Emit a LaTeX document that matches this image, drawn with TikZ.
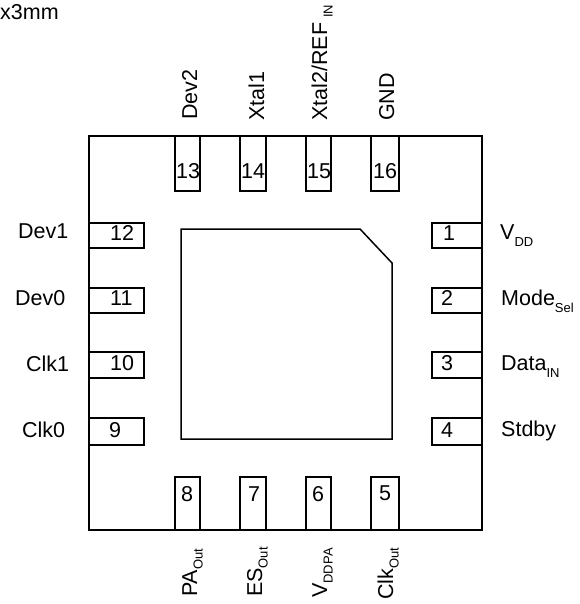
\documentclass[tikz,border=0pt]{standalone}
\usepackage{fontspec}
\setmainfont{Liberation Sans}
\def\pinsub#1{\raisebox{-7pt}{\fontsize{13}{13}\selectfont #1}}
\def\pinsubv#1{\raisebox{-5.5pt}{\fontsize{13}{13}\selectfont #1}}
\tikzset{
	pkgline/.style={line width=1.5pt, color=black},
	pinnum/.style={inner sep=0, anchor=base west, font=\fontsize{21.5}{24}\selectfont},
	pinlabel/.style={inner sep=0, anchor=base west, font=\fontsize{21.5}{24}\selectfont},
	pinlabelv/.style={pinlabel, rotate=90}
}

\begin{document}
\begin{tikzpicture}[x=1pt, y=-1pt]
			%%%%% START %%%%%
			\useasboundingbox (0, 0) rectangle (579, 604);
			
			\node[pinlabel] (title) at (0, 20) {x3mm};
			
			\draw[pkgline] (89, 136) rectangle (482, 530);
			\draw[pkgline] (181, 229) -- (360, 229) -- (392, 263) -- (392, 439) -- (181, 439) -- cycle;
			
			\draw[pkgline] (175, 136) rectangle (200, 191);
			\draw[pkgline] (240, 136) rectangle (266, 191);
			\draw[pkgline] (306, 136) rectangle (331, 191);
			\draw[pkgline] (371, 136) rectangle (399, 191);
			
			\draw[pkgline] (89, 223) rectangle (144, 248);
			\draw[pkgline] (89, 288) rectangle (144, 313);
			\draw[pkgline] (89, 352) rectangle (144, 378);
			\draw[pkgline] (89, 418) rectangle (144, 445);
			
			\draw[pkgline] (432, 223) rectangle (482, 248);
			\draw[pkgline] (432, 288) rectangle (482, 313);
			\draw[pkgline] (432, 352) rectangle (482, 378);
			\draw[pkgline] (432, 418) rectangle (482, 445);
			
			\draw[pkgline] (175, 477) rectangle (200, 530);
			\draw[pkgline] (240, 477) rectangle (266, 530);
			\draw[pkgline] (306, 477) rectangle (331, 530);
			\draw[pkgline] (371, 477) rectangle (399, 530);
			
			\node[pinnum] (pin1) at (443, 240) {1};
			\node[pinnum] (pin2) at (441, 305) {2};
			\node[pinnum] (pin3) at (441, 370) {3};
			\node[pinnum] (pin4) at (441, 437) {4};
			\node[pinnum] (pin5) at (379, 500) {5};
			\node[pinnum] (pin6) at (312, 501) {6};
			\node[pinnum] (pin7) at (248, 501) {7};
			\node[pinnum] (pin8) at (181, 501) {8};
			\node[pinnum] (pin9) at (109, 437) {9};
			\node[pinnum] (pin10) at (110, 370) {10};
			\node[pinnum] (pin11) at (110, 305) {11};
			\node[pinnum] (pin12) at (110, 240) {12};
			\node[pinnum] (pin13) at (176, 178) {13};
			\node[pinnum] (pin14) at (241, 178) {14};
			\node[pinnum] (pin15) at (307, 178) {15};
			\node[pinnum] (pin16) at (373, 178) {16};
			
			\node[pinlabel] (dev1) at (18, 238.5) {Dev1};
			\node[pinlabel] (dev0) at (15, 305) {Dev0};
			\node[pinlabel] (clk1) at (26, 371) {Clk1};
			\node[pinlabel] (clk0) at (22, 437) {Clk0};
			
			\node[pinlabel] (vdd) at (500, 239) {V\pinsub{DD}};
			\node[pinlabel] (modesel) at (501, 305) {Mode\pinsub{Sel}};
			\node[pinlabel] (datain) at (501, 370) {Data\pinsub{IN}};
			\node[pinlabel] (stdby) at (501, 436) {Stdby};
			
			\node[pinlabelv] (dev2) at (197, 120) {Dev2};
			\node[pinlabelv] (xtal1) at (264, 121) {Xtal1};
			\node[pinlabelv] (xtal2) at (327, 121) {Xtal2/REF\hspace{5pt}\pinsubv{IN}};
			\node[pinlabelv] (gnd) at (394, 121) {GND};
			
			\node[pinlabelv] (paout) at (197, 597) {PA\pinsubv{Out}};
			\node[pinlabelv] (esout) at (262, 597) {ES\pinsubv{Out}};
			\node[pinlabelv] (vddpa) at (327, 598) {V\pinsubv{DDPA}};
			\node[pinlabelv] (clkout) at (393, 600) {Clk\pinsubv{Out}};
			%%%%% END %%%%%
		\end{tikzpicture}
\end{document}
